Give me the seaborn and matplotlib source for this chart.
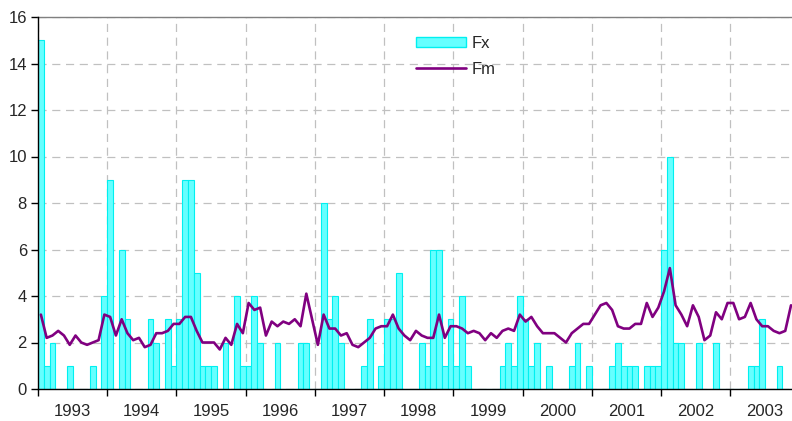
import matplotlib
matplotlib.use("Agg")
import matplotlib.pyplot as plt
import seaborn as sns
import numpy as np
import pandas as pd
from matplotlib.patches import Patch
from matplotlib.lines import Line2D

years = [1993, 1994, 1995, 1996, 1997, 1998, 1999, 2000, 2001, 2002, 2003]

fx = [15, 1, 2, 0, 0, 1, 0, 0, 0, 1, 0, 4,
      9, 0, 6, 3, 0, 0, 0, 3, 2, 0, 3, 1,
      3, 9, 9, 5, 1, 1, 1, 0, 2, 0, 4, 1,
      1, 4, 2, 0, 0, 2, 0, 0, 0, 2, 2, 0,
      0, 8, 3, 4, 2, 0, 0, 0, 1, 3, 0, 1,
      3, 3, 5, 0, 0, 0, 2, 1, 6, 6, 1, 3,
      1, 4, 1, 0, 0, 0, 0, 0, 1, 2, 1, 4,
      3, 1, 2, 0, 1, 0, 0, 0, 1, 2, 0, 1,
      0, 0, 0, 1, 2, 1, 1, 1, 0, 1, 1, 1,
      6, 10, 2, 2, 0, 0, 2, 0, 0, 2, 0, 0,
      0, 0, 0, 1, 1, 3, 0, 0, 1, 0, 0]

fm = [3.2, 2.2, 2.3, 2.5, 2.3, 1.9, 2.3, 2.0, 1.9, 2.0, 2.1, 3.2,
      3.1, 2.3, 3.0, 2.4, 2.1, 2.2, 1.8, 1.9, 2.4, 2.4, 2.5, 2.8,
      2.8, 3.1, 3.1, 2.5, 2.0, 2.0, 2.0, 1.7, 2.2, 1.9, 2.8, 2.4,
      3.7, 3.4, 3.5, 2.3, 2.9, 2.7, 2.9, 2.8, 3.0, 2.7, 4.1, 3.0,
      1.9, 3.2, 2.6, 2.6, 2.3, 2.4, 1.9, 1.8, 2.0, 2.2, 2.6, 2.7,
      2.7, 3.2, 2.6, 2.3, 2.1, 2.5, 2.3, 2.2, 2.2, 3.2, 2.2, 2.7,
      2.7, 2.6, 2.4, 2.5, 2.4, 2.1, 2.4, 2.2, 2.5, 2.6, 2.5, 3.2,
      2.9, 3.1, 2.7, 2.4, 2.4, 2.4, 2.2, 2.0, 2.4, 2.6, 2.8, 2.8,
      3.2, 3.6, 3.7, 3.4, 2.7, 2.6, 2.6, 2.8, 2.8, 3.7, 3.1, 3.5,
      4.2, 5.2, 3.6, 3.2, 2.7, 3.6, 3.1, 2.1, 2.3, 3.3, 3.0, 3.7,
      3.7, 3.0, 3.1, 3.7, 3.0, 2.7, 2.7, 2.5, 2.4, 2.5, 3.6]

month_idx = list(range(len(fx)))
df = pd.DataFrame({"month": month_idx, "Fx": fx, "Fm": fm})

sns.set_style("white")
plt.rcParams["font.family"] = ["Liberation Sans", "DejaVu Sans"]

BAR_FACE = "#66FFFF"
BAR_EDGE = "#00F0F0"
LINE_C = "#800080"

fig = plt.figure(figsize=(7.92, 4.21), dpi=100)
ax = fig.add_axes([38 / 792, 32 / 421, 1 - 38 / 792, 372 / 421])

sns.barplot(data=df, x="month", y="Fx", order=month_idx, width=1.0,
            color=BAR_FACE, saturation=1, edgecolor=BAR_EDGE, linewidth=0.8,
            ax=ax, zorder=2)
sns.lineplot(x=np.array(month_idx, dtype=float), y=fm, color=LINE_C,
             linewidth=1.9, ax=ax, zorder=3)

ax.set_xlim(-0.5, 130.17)
ax.set_ylim(0, 16)

bounds = [-0.5 + 12 * k for k in range(len(years))]
centers = [5.5 + 12 * k for k in range(len(years))]
ax.set_xticks(bounds)
ax.set_xticklabels([])
ax.set_xticks(centers, minor=True)
ax.set_xticklabels([str(y) for y in years], minor=True)
ax.tick_params(axis="x", which="major", direction="out", length=5, width=1, color="black", bottom=True)
ax.tick_params(axis="x", which="minor", length=0, labelsize=12, pad=11)
ax.set_yticks(range(0, 17, 2))
ax.tick_params(axis="y", direction="out", length=5, width=1, color="black", left=True, labelsize=12, pad=3)

ax.set_xlabel("")
ax.set_ylabel("")

ax.set_axisbelow(True)
ax.grid(True, axis="both", which="major", linestyle=(0, (6.5, 4.5)), color="#C0C0C0", linewidth=0.9)

for s in ["left", "bottom"]:
    ax.spines[s].set_color("black")
    ax.spines[s].set_linewidth(1.0)
    ax.spines[s].set_zorder(4)
ax.spines["top"].set_color("#808080")
ax.spines["top"].set_linewidth(1.0)
ax.spines["right"].set_visible(False)

handles = [Patch(facecolor=BAR_FACE, edgecolor=BAR_EDGE, linewidth=1.0),
           Line2D([], [], color=LINE_C, linewidth=1.9)]
ax.legend(handles, ["Fx", "Fm"], loc="upper left", bbox_to_anchor=(0.482, 0.99),
          frameon=False, fontsize=12, handlelength=3.0, handleheight=0.6,
          labelspacing=0.68, handletextpad=0.3)

fig.savefig("out.png", dpi=100)
